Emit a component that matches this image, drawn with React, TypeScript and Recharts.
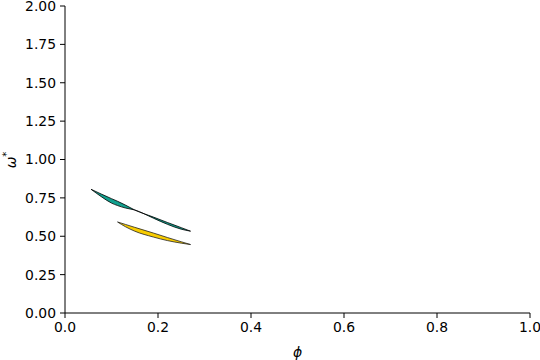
import { ComposedChart, Area, XAxis, YAxis } from "recharts";

const phi = [0.056, 0.078, 0.1, 0.113, 0.13, 0.15, 0.19, 0.22, 0.25, 0.27];
const tealLower = [0.806, 0.758, 0.716, 0.7, 0.684, 0.671, 0.618, 0.578, 0.546, 0.533];
const tealUpper = [0.806, 0.775, 0.745, 0.728, 0.703, 0.671, 0.625, 0.59, 0.556, 0.533];
const goldLower = [null, null, null, 0.593, 0.562, 0.533, 0.495, 0.472, 0.455, 0.446];
const goldUpper = [null, null, null, 0.593, 0.577, 0.558, 0.521, 0.492, 0.464, 0.446];

const xTicks = [0, 0.2, 0.4, 0.6, 0.8, 1.0];
const yTicks = [0, 0.25, 0.5, 0.75, 1.0, 1.25, 1.5, 1.75, 2.0];

const data = phi.map((x, i) => ({
  x,
  teal: [tealLower[i], tealUpper[i]],
  gold: goldLower[i] == null ? null : [goldLower[i], goldUpper[i]],
}));

const FONT = "'DejaVu Sans', sans-serif";
const tick = { fill: "#000", fontSize: 13.9, fontFamily: FONT };

const YLabel = () => (
  <text
    x={0}
    y={0}
    transform="translate(16,160) rotate(-90)"
    textAnchor="middle"
    fontFamily={FONT}
    fontSize={13.9}
    fontStyle="italic"
    fill="#000"
  >
    ω<tspan dy={-6} fontSize={10}>*</tspan>
  </text>
);

export default function App() {
  return (
    <div style={{ position: "absolute", left: 0, top: 0, background: "#fff" }}>
      <ComposedChart
        width={540}
        height={360}
        data={data}
        margin={{ top: 6, right: 10, left: 0, bottom: 0 }}
      >
        <XAxis
          dataKey="x"
          type="number"
          domain={[0, 1]}
          ticks={xTicks}
          tickFormatter={(v) => v.toFixed(1)}
          tick={tick}
          tickSize={5}
          tickMargin={4}
          height={47}
          stroke="#000"
          interval={0}
          label={{ value: "ϕ", position: "insideBottom", offset: 3, fill: "#000", fontSize: 13.9, fontStyle: "italic", fontFamily: FONT }}
        />
        <XAxis xAxisId="top" orientation="top" type="number" domain={[0, 1]} tick={false} tickLine={false} height={0} stroke="#000" />
        <YAxis
          type="number"
          domain={[0, 2]}
          ticks={yTicks}
          tickFormatter={(v) => v.toFixed(2)}
          tick={tick}
          tickSize={5}
          tickMargin={4}
          width={65}
          stroke="#000"
          interval={0}
          label={<YLabel />}
        />
        <YAxis yAxisId="right" orientation="right" type="number" domain={[0, 2]} tick={false} tickLine={false} width={0} stroke="#000" />
        <Area
          type="monotone"
          dataKey="teal"
          stroke="#000"
          strokeWidth={0.8}
          fill="#12a08e"
          fillOpacity={1}
          isAnimationActive={false}
          dot={false}
          activeDot={false}
        />
        <Area
          type="monotone"
          dataKey="gold"
          stroke="#222"
          strokeWidth={0.8}
          fill="#f8cc00"
          fillOpacity={1}
          isAnimationActive={false}
          dot={false}
          activeDot={false}
        />
      </ComposedChart>
    </div>
  );
}
